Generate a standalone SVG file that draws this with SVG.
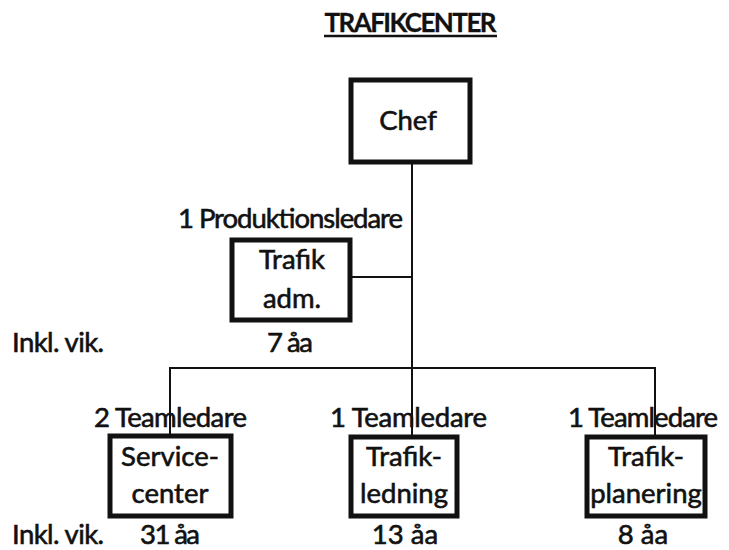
<svg xmlns="http://www.w3.org/2000/svg" width="729" height="550" viewBox="0 0 729 550">
<style>
  text { font-family: Lato, "Liberation Sans", sans-serif; font-size: 27.5px; fill: #111; stroke: #111; stroke-width: 0.6; }
  .c { text-anchor: middle; }
  .box { fill: #fff; stroke: #111; stroke-width: 5; }
  .ln { stroke: #111; stroke-width: 2; fill: none; }
  .title { font-weight: bold; font-size: 26px; stroke-width: 0.3; }
</style>
<rect width="729" height="550" fill="#fff"/>
<g id="title">
  <text x="410.5" y="32" class="c title" textLength="172">TRAFIKCENTER</text>
  <line x1="324" y1="36" x2="497" y2="36" stroke="#111" stroke-width="2.5"/>
</g>
<g id="connectors">
  <line class="ln" x1="412" y1="163" x2="412" y2="436"/>
  <line class="ln" x1="352" y1="277" x2="412" y2="277"/>
  <line class="ln" x1="170" y1="368" x2="655" y2="368"/>
  <line class="ln" x1="170" y1="367" x2="170" y2="434"/>
  <line class="ln" x1="655" y1="367" x2="655" y2="436"/>
</g>
<g id="chef">
  <rect class="box" x="351" y="80" width="119" height="82"/>
  <text x="408" y="130" class="c">Chef</text>
</g>
<g id="trafik-adm">
  <text x="290.5" y="228" class="c" textLength="225">1 Produktionsledare</text>
  <rect class="box" x="232" y="240" width="118" height="80"/>
  <text x="292" y="269" class="c">Trafik</text>
  <text x="292" y="308" class="c">adm.</text>
  <text x="290" y="352" class="c" textLength="46">7 åa</text>
</g>
<g id="inkl">
  <text x="12" y="352" textLength="92">Inkl. vik.</text>
  <text x="12" y="544" textLength="92">Inkl. vik.</text>
</g>
<g id="servicecenter">
  <text x="170.5" y="427" class="c" textLength="153">2 Teamledare</text>
  <rect class="box" x="110" y="436" width="121" height="80"/>
  <text x="170" y="466" class="c">Service-</text>
  <text x="170" y="503" class="c">center</text>
  <text x="170" y="544" class="c" textLength="60">31 åa</text>
</g>
<g id="trafikledning">
  <text x="408.5" y="427" class="c" textLength="157">1 Teamledare</text>
  <rect class="box" x="351" y="437" width="106" height="79"/>
  <text x="404" y="466" class="c">Trafik-</text>
  <text x="404" y="503" class="c">ledning</text>
  <text x="405" y="544" class="c">13 åa</text>
</g>
<g id="trafikplanering">
  <text x="643" y="427" class="c" textLength="150">1 Teamledare</text>
  <rect class="box" x="587" y="437" width="118" height="79"/>
  <text x="646" y="466" class="c">Trafik-</text>
  <text x="646" y="503" class="c">planering</text>
  <text x="643" y="544" class="c">8 åa</text>
</g>
</svg>
